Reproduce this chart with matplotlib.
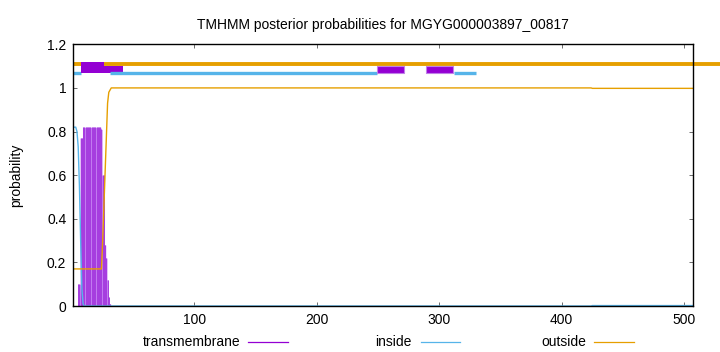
import matplotlib
matplotlib.use("Agg")
import matplotlib.pyplot as plt
from matplotlib.lines import Line2D
from matplotlib.patches import Rectangle

plt.rcParams['font.family'] = ['Liberation Sans', 'DejaVu Sans']

title = "TMHMM posterior probabilities for MGYG000003897_00817"
seq_len = 507

# per-residue posterior probabilities (residues 1..)
tm_head = [0, 0, 0, 0, 0.10, 0.10, 0.77, 0.77,
           0.82, 0.82, 0.82, 0.82, 0.82, 0.82, 0.82, 0.82,
           0.82, 0.82, 0.82, 0.82, 0.82, 0.82, 0.82,
           0.81, 0.60, 0.60, 0.28, 0.22, 0.12, 0.04, 0.01]
inside_head = [0.82, 0.82, 0.82, 0.80, 0.73, 0.55, 0.30, 0.08, 0.01]
outside_head = [0.17, 0.17, 0.17, 0.17, 0.17, 0.17, 0.17, 0.17,
                0.17, 0.17, 0.17, 0.17, 0.17, 0.17, 0.17, 0.17,
                0.17, 0.17, 0.17, 0.17, 0.17, 0.17, 0.17,
                0.17, 0.30, 0.46, 0.62, 0.78, 0.93, 0.98, 0.99]
# tail runs: (value, number of residues)
tm_tail_runs = [(0.0, 476)]
inside_tail_runs = [(0.0, 415), (0.002, 83)]
outside_tail_runs = [(1.0, 393), (0.998, 83)]

# predicted topology line
outside_segments = [(1, 540)]
inside_segments = [(1, 7), (31, 249), (312, 330)]
tm_boxes = [(7, 26, 1.067, 1.117), (26, 42, 1.067, 1.100),
            (249, 271, 1.067, 1.102), (289, 311, 1.067, 1.102)]

xticks = [100, 200, 300, 400, 500]
yticks = [0, 0.2, 0.4, 0.6, 0.8, 1.0, 1.2]
ytick_labels = ["0", "0.2", "0.4", "0.6", "0.8", "1", "1.2"]
legend_labels = ["transmembrane", "inside", "outside"]

C_TM = "#9400D3"
C_IN = "#56B4E9"
C_OUT = "#E69F00"


def expand(head, runs):
    vals = list(head)
    for v, n in runs:
        vals.extend([v] * n)
    return vals


tm = expand(tm_head, tm_tail_runs)[:seq_len]
inside = expand(inside_head, inside_tail_runs)[:seq_len]
outside = expand(outside_head, outside_tail_runs)[:seq_len]
res_tm = list(range(1, len(tm) + 1))
res_in = list(range(1, len(inside) + 1))
res_out = list(range(1, len(outside) + 1))

fig = plt.figure(figsize=(7.2, 3.52), dpi=100)
ax = fig.add_axes([73.3 / 720, 1 - 306 / 352, (692.7 - 73.3) / 720, (306 - 44.3) / 352])

# transmembrane posterior: filled steps with darker impulse stripes
ax.fill_between(res_tm, tm, step="mid", color="#c27af0", linewidth=0, zorder=2)
ax.vlines(res_tm, 0, tm, color="#a63ddf", linewidth=0.7, zorder=2.5)
ax.plot(res_in, inside, color=C_IN, lw=1.0, zorder=3)
ax.plot(res_out, outside, color=C_OUT, lw=1.0, zorder=3)

# topology
for a, b in outside_segments:
    ax.plot([a, b], [1.11, 1.11], color=C_OUT, lw=2.8, solid_capstyle="butt",
            clip_on=False, zorder=4)
ax.add_patch(Rectangle((tm_boxes[1][0], tm_boxes[1][2]),
                       tm_boxes[1][1] - tm_boxes[1][0], tm_boxes[1][3] - tm_boxes[1][2],
                       facecolor=C_TM, edgecolor="none", zorder=4))
for a, b in inside_segments:
    ax.plot([a, b], [1.07, 1.07], color=C_IN, lw=2.4, solid_capstyle="butt",
            clip_on=False, zorder=5)
for i, (a, b, y0, y1) in enumerate(tm_boxes):
    if i == 1:
        continue
    ax.add_patch(Rectangle((a, y0), b - a, y1 - y0, facecolor=C_TM,
                           edgecolor="#c080e8" if i > 1 else "none",
                           linewidth=0.8, zorder=6))

ax.set_xlim(1, seq_len)
ax.set_ylim(0, 1.2)
ax.set_xticks(xticks)
ax.set_xticklabels([str(t) for t in xticks])
ax.set_yticks(yticks)
ax.set_yticklabels(ytick_labels)
ax.tick_params(direction="in", length=3, width=0.6, color="#555555",
               top=True, right=True, labelsize=10, pad=5)
for s in ax.spines.values():
    s.set_linewidth(1.0)
    s.set_color("black")
    s.set_zorder(10)

ax.set_title(title, fontsize=10, pad=11)
ax.set_ylabel("probability", fontsize=10, labelpad=17)

# legend
ly = 1 - 341.7 / 352
entries = [(legend_labels[0], C_TM, 240, 248, 288),
           (legend_labels[1], C_IN, 412, 421, 460),
           (legend_labels[2], C_OUT, 586, 594, 634)]
for lab, col, tx, l0, l1 in entries:
    fig.text(tx / 720, ly, lab, ha="right", va="center", fontsize=10)
    fig.add_artist(Line2D([l0 / 720, l1 / 720], [ly, ly], color=col, lw=0.9,
                          transform=fig.transFigure))

fig.savefig("out.png", dpi=100)
